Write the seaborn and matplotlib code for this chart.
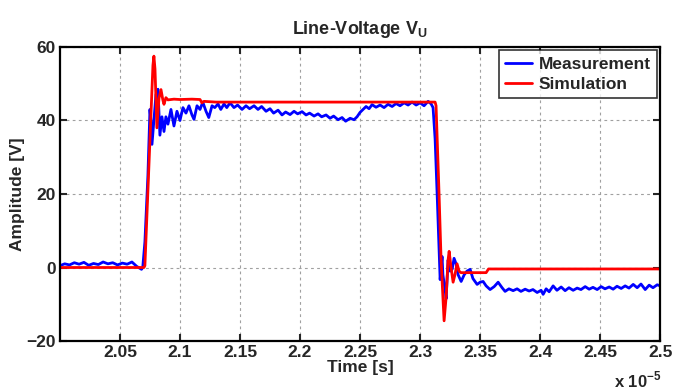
import numpy as np
import pandas as pd
import matplotlib
matplotlib.use("Agg")
import matplotlib.pyplot as plt
import seaborn as sns

# time in units of 1e-5 s, voltage in V
t_meas = [
    2.000, 2.004, 2.008, 2.012, 2.016, 2.020, 2.024, 2.028, 2.032, 2.036,
    2.040, 2.044, 2.048, 2.052, 2.056, 2.060, 2.064, 2.068,
    2.069, 2.0708, 2.0733, 2.075, 2.0758, 2.0767, 2.0783, 2.080, 2.0817, 2.0833,
    2.085, 2.0867, 2.0883, 2.090, 2.0925, 2.095, 2.0975, 2.100, 2.1025, 2.105,
    2.1075, 2.110, 2.1117, 2.1142, 2.1167, 2.119, 2.1217, 2.124, 2.1267, 2.129,
    2.1317, 2.134, 2.1367, 2.139, 2.1417, 2.145, 2.148, 2.1517, 2.155, 2.158,
    2.1617, 2.165, 2.168, 2.1717, 2.175, 2.178, 2.1817, 2.185, 2.188, 2.1917,
    2.195, 2.198, 2.2017, 2.205, 2.208, 2.2117, 2.215, 2.218, 2.2217, 2.225,
    2.228, 2.2317, 2.235, 2.238, 2.2417, 2.245, 2.2475, 2.250, 2.2525, 2.255,
    2.2575, 2.260, 2.2633, 2.2667, 2.270, 2.2733, 2.2767, 2.280, 2.2833, 2.2867,
    2.290, 2.2933, 2.2967, 2.300, 2.3033, 2.3067, 2.3092, 2.3108,
    2.3125, 2.3142, 2.3158, 2.3167, 2.3183, 2.319, 2.3208, 2.3217, 2.3233, 2.325,
    2.3267, 2.3283, 2.330, 2.3317, 2.3342, 2.3367, 2.339, 2.3417, 2.344, 2.3475,
    2.350, 2.3525, 2.355, 2.3583, 2.3617, 2.365, 2.3683, 2.3708, 2.374, 2.3775,
    2.3808, 2.384, 2.3875, 2.3908, 2.394, 2.3975, 2.4008, 2.4025, 2.405, 2.4075,
    2.4108, 2.414, 2.4175, 2.4208, 2.424, 2.4275, 2.4308, 2.434, 2.4375, 2.4408,
    2.444, 2.4475, 2.4508, 2.454, 2.4575, 2.4608, 2.464, 2.4675, 2.4708, 2.474,
    2.4775, 2.4808, 2.484, 2.4875, 2.4908, 2.494, 2.4975, 2.500,
]
v_meas = [
    0.5, 1.0, 0.7, 1.3, 0.9, 1.4, 0.6, 1.1, 0.8, 1.5,
    1.0, 1.3, 0.7, 1.2, 0.9, 1.5, 0.3, -0.5,
    0.0, 7.0, 25.0, 43.0, 40.0, 33.5, 40.0, 47.0, 48.5, 36.0,
    41.0, 37.0, 41.0, 39.0, 43.0, 38.5, 42.5, 40.0, 43.5, 42.0,
    44.0, 41.5, 40.3, 44.0, 43.0, 45.0, 42.5, 40.8, 44.0, 43.5,
    44.5, 43.0, 44.5, 43.5, 44.8, 43.5, 44.2, 43.0, 44.0, 43.2,
    44.0, 43.0, 43.8, 42.5, 43.2, 42.0, 42.8, 41.5, 42.3, 41.6,
    42.5, 41.8, 42.4, 41.5, 42.0, 41.2, 41.8, 41.0, 41.5, 40.6,
    41.2, 40.2, 40.8, 39.8, 40.6, 40.2, 41.0, 42.2, 43.0, 43.8,
    43.2, 44.3, 43.6, 44.2, 43.5, 44.4, 43.8, 44.6, 44.0, 44.8,
    44.2, 45.0, 44.2, 44.8, 44.0, 45.2, 44.5, 43.5,
    35.0, 20.0, 5.0, -3.3, 3.0, -2.0, -6.0, -8.5, 2.0, -1.0,
    -0.5, 2.5, 1.0, -2.0, -3.8, -2.0, -1.0, -0.5, -3.0, -4.6,
    -4.0, -3.8, -5.0, -6.0, -5.2, -4.0, -5.5, -6.5, -5.8, -6.3,
    -5.8, -6.5, -5.9, -6.4, -6.0, -6.8, -6.2, -7.3, -5.8, -6.6,
    -5.0, -6.2, -5.3, -6.3, -5.5, -6.2, -5.6, -6.0, -5.2, -5.9,
    -5.4, -6.0, -5.2, -5.8, -5.3, -5.9, -5.1, -5.7, -5.0, -5.6,
    -4.6, -5.5, -4.5, -6.0, -4.8, -5.5, -4.7, -5.0,
]

t_sim = [
    2.000, 2.070, 2.0708, 2.0775, 2.0783, 2.0792, 2.0808, 2.0825, 2.0842, 2.0858,
    2.0867, 2.0883, 2.090, 2.095, 2.100, 2.110, 2.1167, 2.1183, 2.120, 2.130,
    2.3125, 2.3133, 2.3158, 2.3175, 2.319, 2.320, 2.3217, 2.3233, 2.3242, 2.3258,
    2.3275, 2.329, 2.3308, 2.3325, 2.334, 2.355, 2.357, 2.500,
]
v_sim = [
    0.0, 0.0, 0.5, 55.0, 57.5, 54.0, 38.0, 46.0, 48.4, 45.5,
    44.4, 46.2, 45.6, 45.8, 45.7, 45.8, 45.7, 44.8, 45.2, 45.0,
    45.0, 44.0, 20.0, 2.0, -8.0, -14.5, -8.0, 2.0, 4.4, 0.0,
    -4.0, -2.0, 1.0, -1.0, -1.4, -1.4, -0.4, -0.4,
]

x_ticks = [2.05, 2.1, 2.15, 2.2, 2.25, 2.3, 2.35, 2.4, 2.45, 2.5]
y_ticks = [-20, 0, 20, 40, 60]


def main():
    df = pd.concat([
        pd.DataFrame({"t": t_meas, "v": v_meas, "series": "Measurement"}),
        pd.DataFrame({"t": t_sim, "v": v_sim, "series": "Simulation"}),
    ])

    sns.set_style("ticks")
    plt.rcParams["font.family"] = ["Liberation Sans", "DejaVu Sans"]
    plt.rcParams["font.weight"] = "bold"
    plt.rcParams["mathtext.fontset"] = "custom"
    plt.rcParams["mathtext.rm"] = "Liberation Sans:bold"
    plt.rcParams["mathtext.bf"] = "Liberation Sans:bold"

    fig = plt.figure(figsize=(6.73, 3.9), dpi=100)
    ax = fig.add_axes([0.089, 0.1256, 0.892, 0.754])

    sns.lineplot(data=df, x="t", y="v", hue="series", estimator=None, sort=False,
                 palette={"Measurement": "#0000ff", "Simulation": "#ff0000"},
                 linewidth=2.0, ax=ax)

    ax.set_xlim(2.0, 2.5)
    ax.set_ylim(-20, 60)
    ax.set_xticks(x_ticks)
    ax.set_xticklabels([f"{v:g}" for v in x_ticks])
    ax.set_yticks(y_ticks)
    ax.tick_params(direction="in", length=5, width=1.5, labelsize=12.5, pad=3,
                   top=True, right=True)
    for lbl in ax.get_xticklabels() + ax.get_yticklabels():
        lbl.set_fontweight("bold")
    for s in ax.spines.values():
        s.set_linewidth(1.6)
        s.set_color("black")
    ax.grid(True, color="#a0a0a0", linestyle=(0, (2.5, 3)), linewidth=0.8)

    ax.set_xlabel("Time [s]", fontsize=12.5, fontweight="bold", labelpad=0)
    ax.set_ylabel("Amplitude [V]", fontsize=12.5, fontweight="bold", labelpad=1)
    ax.set_title(r"Line-Voltage V$_\mathrm{U}$", fontsize=13, fontweight="bold", pad=9)
    fig.text(0.913, 0.006, r"x 10$^{-5}$", fontsize=12, fontweight="bold")

    leg = ax.legend(loc="upper right", fontsize=12.5, frameon=True, fancybox=False,
                    handlelength=1.6, handletextpad=0.35, borderaxespad=0.2,
                    borderpad=0.35, labelspacing=0.3, edgecolor="black")
    leg.get_frame().set_linewidth(1.2)
    for txt in leg.get_texts():
        txt.set_fontweight("bold")

    fig.savefig("out.png", dpi=100)
    plt.close(fig)


if __name__ == "__main__":
    main()
